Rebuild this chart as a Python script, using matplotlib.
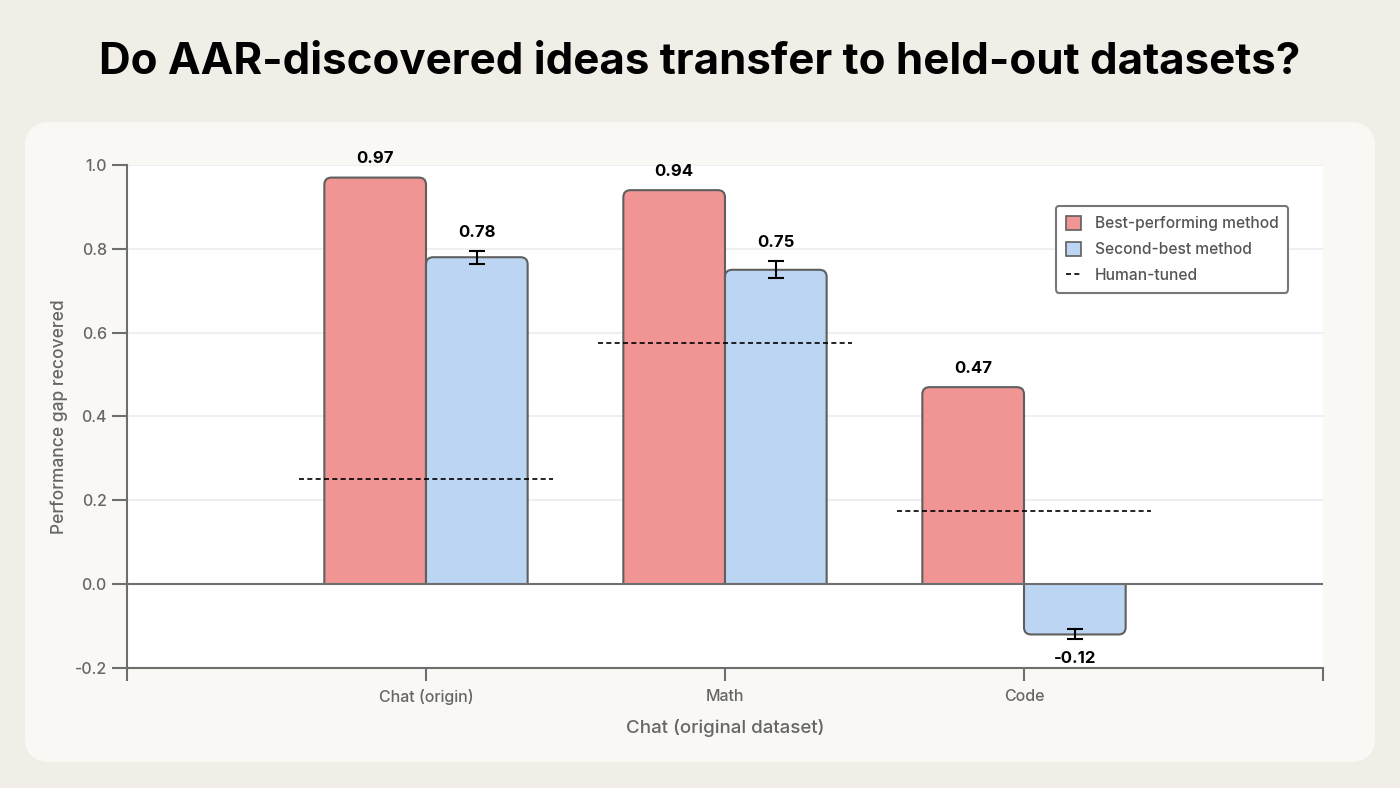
import matplotlib.pyplot as plt
from matplotlib.patches import FancyBboxPatch, Rectangle, Patch
from matplotlib.lines import Line2D
import numpy as np

plt.rcParams['font.family'] = ['Inter', 'DejaVu Sans']

# data
datasets = ["Chat (origin)", "Math", "Code"]
best = [0.97, 0.94, 0.47]
second = [0.78, 0.75, -0.12]
second_err = [0.015, 0.02, 0.012]
human = [0.25, 0.575, 0.175]
yticks = [-0.2, 0.0, 0.2, 0.4, 0.6, 0.8, 1.0]

red = "#F09494"
blue = "#BBD5F2"
edge = "#5f5f5f"
grey_txt = "#666666"

fig = plt.figure(figsize=(14, 7.88), dpi=100)
fig.patch.set_facecolor("#f0eee7")

# card behind the plot
card = FancyBboxPatch((25/1400, 1 - 762/788), 1350/1400, 640/788,
                      boxstyle="round,pad=0,rounding_size=0.018",
                      mutation_aspect=1400/788, transform=fig.transFigure,
                      facecolor="#f9f8f5", edgecolor="none", zorder=-5)
fig.patches.append(card)

fig.text(0.5, 1 - 62/788, "Do AAR-discovered ideas transfer to held-out datasets?",
         ha="center", va="center", fontsize=31.6, fontweight="bold", color="black")

ax = fig.add_axes([127/1400, 1 - 668/788, (1323 - 127)/1400, (668 - 165)/788])
ax.set_facecolor("white")

x = np.arange(len(datasets))
w = 0.34
b1 = ax.bar(x - w/2, best, w, color=red)
b2 = ax.bar(x + w/2, second, w, color=blue, yerr=second_err,
            error_kw=dict(ecolor="black", elinewidth=1.5, capsize=6, capthick=1.5, zorder=5))


def round_bars(bars):
    for r in bars:
        x0, y0, bw, bh = r.get_x(), r.get_y(), r.get_width(), r.get_height()
        r.set_visible(False)
        lo, hi = min(y0, y0 + bh), max(y0, y0 + bh)
        if bh >= 0:
            lo -= 0.05
        else:
            hi += 0.05
        fb = FancyBboxPatch((x0, lo), bw, hi - lo,
                            boxstyle="round,pad=0,rounding_size=0.024",
                            mutation_aspect=0.71, facecolor=r.get_facecolor(),
                            edgecolor=edge, linewidth=1.5, zorder=2)
        ax.add_patch(fb)
        if bh >= 0:
            clip = Rectangle((-1, 0), 4, 2, transform=ax.transData)
        else:
            clip = Rectangle((-1, -1), 4, 1, transform=ax.transData)
        fb.set_clip_path(clip)


round_bars(b1)
round_bars(b2)

# human-tuned dashed lines
for xi, h in zip(x, human):
    ax.plot([xi - 0.425, xi + 0.425], [h, h], color="black", lw=1.2,
            linestyle=(0, (3, 2)), zorder=4)

# value labels
for xi, v in zip(x - w/2, best):
    ax.annotate(f"{v:.2f}", (xi, v), xytext=(0, 8), textcoords="offset points",
                ha="center", va="bottom", fontsize=12, fontweight="bold")
for xi, v, e in zip(x + w/2, second, second_err):
    if v >= 0:
        ax.annotate(f"{v:.2f}", (xi, v + e), xytext=(0, 8), textcoords="offset points",
                    ha="center", va="bottom", fontsize=12, fontweight="bold")
    else:
        ax.annotate(f"{v:.2f}", (xi, v - e), xytext=(0, -8), textcoords="offset points",
                    ha="center", va="top", fontsize=12, fontweight="bold")

ax.axhline(0, color="#6e6e6e", lw=1.5, zorder=3)

ax.set_xlim(-1, 3)
ax.set_ylim(-0.2, 1.0)
ax.set_yticks(yticks)
ax.set_yticklabels([f"{t:.1f}" for t in yticks], fontweight="medium")
ax.set_xticks([-1, 0, 1, 2, 3])
ax.set_xticklabels([""] + datasets + [""], fontweight="medium")
ax.grid(axis="y", color="#ececec", lw=1.2, zorder=0)
ax.set_axisbelow(True)

for s in ["top", "right"]:
    ax.spines[s].set_visible(False)
for s in ["left", "bottom"]:
    ax.spines[s].set_color("#6e6e6e")
    ax.spines[s].set_linewidth(1.5)
ax.tick_params(axis="both", colors="#6e6e6e", width=1.5,
               labelcolor=grey_txt, labelsize=11.5)
ax.tick_params(axis="y", length=10.5, pad=4)
ax.tick_params(axis="x", length=9, pad=6)

ax.set_ylabel("Performance gap recovered", fontsize=12.5, color=grey_txt,
              labelpad=5, fontweight="medium")
ax.set_xlabel("Chat (original dataset)", fontsize=13.5, color=grey_txt,
              labelpad=10, fontweight="medium")

handles = [Patch(facecolor=red, edgecolor=edge, linewidth=1.2),
           Patch(facecolor=blue, edgecolor=edge, linewidth=1.2),
           Line2D([0], [0], color="black", lw=1.2, linestyle=(0, (3, 2)))]
leg = ax.legend(handles, ["Best-performing method", "Second-best method", "Human-tuned"],
                loc="upper right", bbox_to_anchor=(0.971, 0.918), borderaxespad=0,
                frameon=True, fancybox=True, handlelength=1.0,
                handleheight=1.0, handletextpad=0.9, borderpad=0.6, labelspacing=0.7,
                prop=dict(size=11.2, weight="medium"))
leg.get_frame().set_edgecolor("#777777")
leg.get_frame().set_linewidth(1.5)
leg.get_frame().set_facecolor("white")
leg.get_frame().set_alpha(1)
for t in leg.get_texts():
    t.set_color("#555555")

fig.savefig("out.png", dpi=100, facecolor=fig.get_facecolor())
